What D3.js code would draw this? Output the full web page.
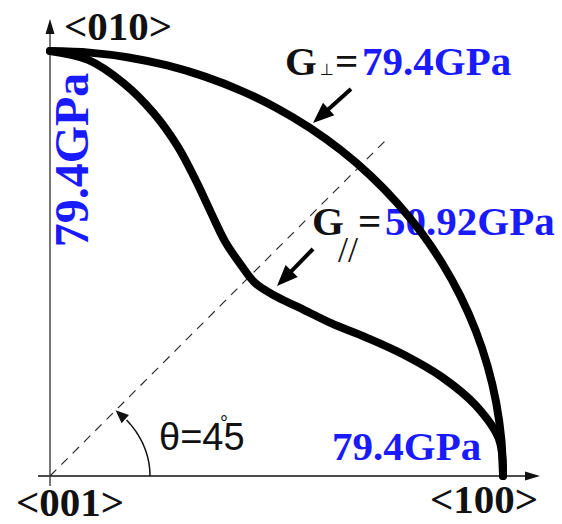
<!DOCTYPE html>
<html>
<head>
<meta charset="utf-8">
<script src="https://cdn.jsdelivr.net/npm/d3@7"></script>
<style>
  html, body { margin: 0; padding: 0; background: #fff; }
  svg { display: block; }
</style>
</head>
<body>
<svg id="chart" width="562" height="524"></svg>
<script>
// Shear modulus in the (001) plane, angle measured from <100> toward <010>
const angles = [0, 5, 10, 15, 20, 25, 30, 35, 40, 45, 50, 55, 60, 65, 70, 75, 80, 85, 90];
const gPerp = [79.4, 79.4, 79.4, 79.4, 79.4, 79.4, 79.4, 79.4, 79.4, 79.4, 79.4, 79.4, 79.4, 79.4, 79.4, 79.4, 79.4, 79.4, 79.4];
const gPar = [79.4, 79.0, 75.8, 71.2, 66.1, 61.2, 57.0, 54.2, 52.0, 50.92, 51.8, 53.5, 56.6, 60.7, 65.5, 70.2, 74.5, 78.0, 79.4];

const axisLabels = { x: "<100>", y: "<010>", origin: "<001>" };
const gMax = 79.4;

const svg = d3.select("#chart");
const blue = "#1a1aff";
const serif = "'Liberation Serif', 'Times New Roman', serif";
const sans = "'Liberation Sans', Arial, sans-serif";

const x = d3.scaleLinear().domain([0, gMax]).range([50, 503]);
const y = d3.scaleLinear().domain([0, gMax]).range([476, 51]);
const ox = x(0), oy = y(0);

function arrowHead(g, tipX, tipY, fromX, fromY, len, half, color) {
  const a = Math.atan2(tipY - fromY, tipX - fromX);
  const bx = tipX - len * Math.cos(a), by = tipY - len * Math.sin(a);
  const px = -Math.sin(a) * half, py = Math.cos(a) * half;
  g.append("path")
    .attr("d", `M${tipX},${tipY}L${bx + px},${by + py}L${bx - px},${by - py}Z`)
    .attr("fill", color);
}

// axes
const axes = svg.append("g");
axes.append("line")
  .attr("x1", 38).attr("y1", oy).attr("x2", 530).attr("y2", oy)
  .attr("stroke", "#111").attr("stroke-width", 1.6);
arrowHead(axes, 540, oy, 38, oy, 15, 4.5, "#111");
axes.append("line")
  .attr("x1", ox).attr("y1", 486).attr("x2", ox).attr("y2", 30)
  .attr("stroke", "#555").attr("stroke-width", 1.6);
arrowHead(axes, ox, 19, ox, 486, 15, 4.5, "#111");

// 45 degree guide
const guideLen = 478;
svg.append("line")
  .attr("x1", ox).attr("y1", oy)
  .attr("x2", ox + guideLen * Math.SQRT1_2).attr("y2", oy - guideLen * Math.SQRT1_2)
  .attr("stroke", "#222").attr("stroke-width", 1.1)
  .attr("stroke-dasharray", "9,7");

// angle arc with arrow
const arcPts = d3.range(0, 41, 1).map(t => {
  const r = t * Math.PI / 180;
  return [ox + 100 * Math.cos(r), oy - 87 * Math.sin(r)];
});
svg.append("path")
  .attr("d", d3.line()(arcPts))
  .attr("fill", "none").attr("stroke", "#111").attr("stroke-width", 1.5);
{
  const tt = 49 * Math.PI / 180, tb = 39 * Math.PI / 180;
  arrowHead(svg, ox + 100 * Math.cos(tt), oy - 87 * Math.sin(tt),
    ox + 100 * Math.cos(tb), oy - 87 * Math.sin(tb), 13, 5.5, "#111");
}
svg.append("text")
  .attr("x", 159).attr("y", 450)
  .attr("font-family", sans).attr("font-size", 38)
  .attr("fill", "#111")
  .text("θ=45");
svg.append("text")
  .attr("x", 224).attr("y", 430).attr("text-anchor", "middle")
  .attr("font-family", sans).attr("font-size", 20)
  .attr("fill", "#111")
  .text("°");

// axis direction labels
const lab = svg.append("g")
  .attr("font-family", serif).attr("font-weight", "bold")
  .attr("font-size", 41).attr("fill", "#111");
lab.append("text").attr("x", 64).attr("y", 40).text(axisLabels.y);
lab.append("text").attr("x", 16).attr("y", 516).text(axisLabels.origin);
lab.append("text").attr("x", 430).attr("y", 513).text(axisLabels.x);

// value labels
const vl = svg.append("g")
  .attr("font-family", serif).attr("font-weight", "bold").attr("font-size", 41);

vl.append("text")
  .attr("transform", "translate(88,160) rotate(-90)")
  .attr("text-anchor", "middle").attr("font-size", 48)
  .attr("fill", blue).text(gMax + "GPa");

vl.append("text").attr("x", 332).attr("y", 460)
  .attr("fill", blue).text(gMax + "GPa");

const tPerp = vl.append("text").attr("y", 75);
tPerp.append("tspan").attr("x", 285).attr("fill", "#111").text("G");
tPerp.append("tspan").attr("x", 320).attr("fill", "#111")
  .attr("font-size", 16).attr("font-weight", "normal")
  .attr("font-family", "'DejaVu Sans', sans-serif").text("⊥");
tPerp.append("tspan").attr("x", 335).attr("fill", "#111").text("=");
tPerp.append("tspan").attr("x", 362).attr("fill", blue).text(gPerp[9] + "GPa");

const tPar = vl.append("text").attr("y", 235);
tPar.append("tspan").attr("x", 338).attr("y", 262).attr("fill", "#111")
  .attr("font-size", 36).attr("font-weight", "normal")
  .text("//");
tPar.append("tspan").attr("x", 312).attr("y", 235).attr("fill", "#111").text("G");
tPar.append("tspan").attr("x", 358).attr("y", 235).attr("fill", "#111").text("=");
tPar.append("tspan").attr("x", 385).attr("fill", blue).text(gPar[9].toFixed(2) + "GPa");

// modulus curves
const toRad = d => d * Math.PI / 180;
const line = d3.line()
  .x(d => x(d.g * Math.cos(toRad(d.a))))
  .y(d => y(d.g * Math.sin(toRad(d.a))))
  .curve(d3.curveCatmullRom.alpha(0.5));

[gPerp, gPar].forEach(vals => {
  svg.append("path")
    .datum(angles.map((a, i) => ({ a, g: vals[i] })))
    .attr("d", line)
    .attr("fill", "none")
    .attr("stroke", "#000")
    .attr("stroke-width", 8)
    .attr("stroke-linecap", "round")
    .attr("stroke-linejoin", "round");
});

// pointer arrows
function pointer(x1, y1, x2, y2) {
  const a = Math.atan2(y2 - y1, x2 - x1);
  svg.append("line")
    .attr("x1", x1).attr("y1", y1)
    .attr("x2", x2 - 14 * Math.cos(a)).attr("y2", y2 - 14 * Math.sin(a))
    .attr("stroke", "#000").attr("stroke-width", 4);
  arrowHead(svg, x2, y2, x1, y1, 21, 8.5, "#000");
}
pointer(351, 89, 313, 123);
pointer(313, 249, 277, 286);
</script>
</body>
</html>
